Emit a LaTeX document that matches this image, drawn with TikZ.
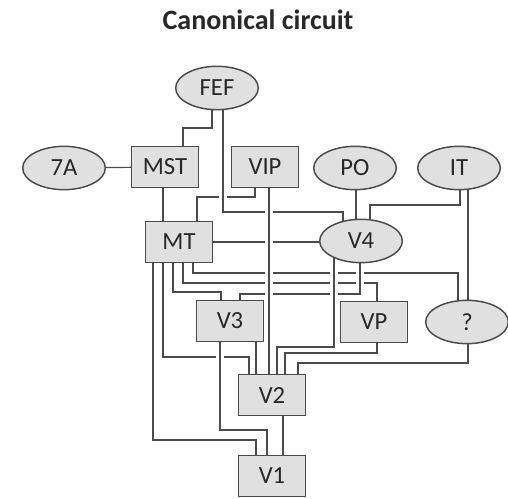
\documentclass[tikz,border=0pt]{standalone}
\usepackage{fontspec}
\setmainfont{Carlito}
\definecolor{myline}{RGB}{75,75,75}
\definecolor{myfill}{RGB}{224,224,224}
\definecolor{mytext}{RGB}{40,40,40}
\usetikzlibrary{shapes.geometric, backgrounds}

\begin{document}
\begin{tikzpicture}[x=0.75pt, y=-0.75pt,
        area/.style={draw=myline, line width=1.1pt, fill=myfill, text=mytext, minimum width=50pt, minimum height=31pt, inner sep=0pt, font=\fontsize{18.5}{21}\selectfont},
        oval/.style={area, ellipse, minimum width=62pt, minimum height=32.5pt},
        wire/.style={draw=myline, line width=0.9pt, preaction={draw=white, line width=5.5pt}}]
        \useasboundingbox (0,0) rectangle (508,499);
        \node[font=\bfseries\fontsize{21}{24}\selectfont, text=mytext] (title) at (258,20) {Canonical circuit};
        % boxes
        \foreach \nm/\x/\y in {MST/165/167, VIP/265/167, MT/179/242, V3/230/321, VP/374/322, V2/272/395, V1/272/476}
        {
            \node[area] (\nm) at (\x,\y) {\nm};
        }
        % ellipses
        \foreach \nm/\x/\y/\label in {FEF/217/88/FEF, a7/64/168/7A, PO/355/168/PO, IT/459/168/IT, V4/361/241/V4, Q/467/322/?}
        {
            \node[oval] (\nm) at (\x,\y) {\label};
        }
        \begin{scope}[on background layer]
            \draw[wire] (a7) -- (MST);
            \draw[wire] (212,0 |- FEF) |- (183,128) -- (183,0 |- MST);
            \draw[wire] (255,0 |- VIP) |- (197,197) -- (197,0 |- MT);
            \draw[wire] (163,0 |- MST) -- (163,0 |- MT);
            \draw[wire] (223,0 |- FEF) |- (343,212) -- (343,0 |- V4);
            \draw[wire] (MT) -- (MT -| V4);
            \draw[wire] (356,0 |- PO) -- (356,0 |- V4);
            \draw[wire] (460,0 |- IT) |- (370,205) -- (370,0 |- V4);
            \draw[wire] (468,0 |- IT) -- (468,0 |- Q);
            % from MT downwards
            \draw[wire] (193,0 |- MT) |- (458,273) -- (458,0 |- Q);
            \draw[wire] (183,0 |- MT) |- (377,283) -- (377,0 |- VP);
            \draw[wire] (173,0 |- MT) |- (221,292) -- (221,0 |- V3);
            \draw[wire] (360,0 |- V4) |- (240,294) -- (240,0 |- V3);
            \draw[wire] (334,0 |- V4) |- (277,347) -- (277,0 |- V2);
            \draw[wire] (377,0 |- VP) |- (285,353) -- (285,0 |- V2);
            \draw[wire] (468,0 |- Q) |- (298,363) -- (298,0 |- V2);
            \draw[wire] (163,0 |- MT) |- (249,357) -- (249,0 |- V2);
            \draw[wire] (256,0 |- V3) -- (256,0 |- V2);
            \draw[wire] (269,0 |- VIP) -- (269,0 |- V2);
            \draw[wire] (220,0 |- V3) |- (267,430) -- (267,0 |- V1);
            \draw[wire] (153,0 |- MT) |- (256,440) -- (256,0 |- V1);
            \draw[wire] (283,0 |- V2) -- (283,0 |- V1);
        \end{scope}
    \end{tikzpicture}
\end{document}
